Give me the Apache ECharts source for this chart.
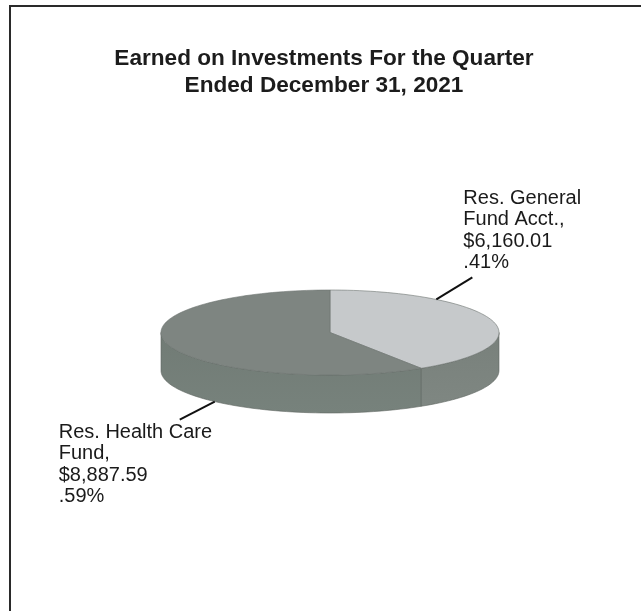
<!DOCTYPE html>
<html lang="en">
<head>
<meta charset="UTF-8">
<title>Earned on Investments For the Quarter</title>
<script src="https://cdn.jsdelivr.net/npm/echarts@6/dist/echarts.min.js"></script>
</head>
<body style="margin:0;background:#ffffff;">
<div id="main" style="width:641px;height:611px;"></div>
<script>
// data
var names = ['Res. General\nFund Acct.', 'Res. Health Care\nFund'];
var amounts = [6160.01, 8887.59];

// styles
var topColors = ['#c6c9cb', '#7e8581'];
var sideColors = ['#78807b', '#717b75'];
var textFont = "'Liberation Sans', Arial, sans-serif";

// flattened 3d pie layout (px)
var pie = { cx: 330, cy: 332.5, rx: 169, ry: 42.5, depth: 38 };
// leader start angle (deg clockwise from 12 o'clock), leader end offset, text offset
var labelPos = [
    { angle: 39, onSide: false, dx: 36, dy: -22, tx: -9, ty: -4, va: 'bottom' },
    { angle: 223, onSide: true, dx: -35, dy: 18, tx: -121, ty: 2, va: 'top' }
];

var total = amounts.reduce(function (s, v) { return s + v; }, 0);
var angles = [];
var acc = 0;
amounts.forEach(function (v) {
    var a0 = acc / total * 360;
    acc += v;
    angles.push([a0, acc / total * 360]);
});

function pt(deg, dy) {
    var r = deg * Math.PI / 180;
    return [pie.cx + pie.rx * Math.sin(r), pie.cy - pie.ry * Math.cos(r) + (dy || 0)];
}

function arc(a0, a1, dy) {
    var n = Math.max(2, Math.ceil(Math.abs(a1 - a0) / 2));
    var pts = [];
    for (var k = 0; k <= n; k++) {
        pts.push(pt(a0 + (a1 - a0) * k / n, dy));
    }
    return pts;
}

function money(v) {
    return '$' + v.toFixed(2).replace(/\B(?=(\d{3})+(?!\d))/g, ',');
}

function pct(v) {
    return (v / total).toFixed(2).replace(/^0/, '') + '%';
}

function renderSlice(params, api) {
    var i = params.dataIndex;
    var a0 = angles[i][0], a1 = angles[i][1];
    var children = [];

    // visible outer wall (front half of the ellipse)
    var s0 = Math.max(a0, 90), s1 = Math.min(a1, 270);
    if (s1 > s0) {
        var upper = arc(s0, s1, 0);
        var lower = arc(s1, s0, pie.depth);
        children.push({
            type: 'polygon',
            shape: { points: upper.concat(lower) },
            style: {
                fill: new echarts.graphic.LinearGradient(0, 0, 0, 1, [
                    { offset: 0, color: sideColors[i] },
                    { offset: 1, color: echarts.color.lift(sideColors[i], -0.06) }
                ]),
                stroke: '#5f6662',
                lineWidth: 0.6
            }
        });
    }

    // top face
    children.push({
        type: 'polygon',
        z2: 5,
        shape: { points: [[pie.cx, pie.cy]].concat(arc(a0, a1, 0)) },
        style: { fill: topColors[i], stroke: '#6d7470', lineWidth: 0.6 }
    });

    // leader line + label
    var lp = labelPos[i];
    var s = pt(lp.angle, lp.onSide ? pie.depth : 0);
    var e = [s[0] + lp.dx, s[1] + lp.dy];
    children.push({
        type: 'line',
        z2: 10,
        shape: { x1: s[0], y1: s[1], x2: e[0], y2: e[1] },
        style: { stroke: '#111111', lineWidth: 2 }
    });
    children.push({
        type: 'text',
        z2: 10,
        x: e[0] + lp.tx,
        y: e[1] + lp.ty,
        style: {
            text: names[i] + ',\n' + money(amounts[i]) + '\n' + pct(amounts[i]),
            fontFamily: textFont,
            fontSize: 20,
            lineHeight: 21.5,
            fill: '#1a1a1a',
            align: 'left',
            verticalAlign: lp.va
        }
    });

    return { type: 'group', children: children };
}

var chart = echarts.init(document.getElementById('main'));

var option = {
    backgroundColor: '#ffffff',
    animation: false,
    title: {
        text: 'Earned on Investments For the Quarter\nEnded December 31, 2021',
        left: 319,
        top: 40,
        textAlign: 'center',
        textStyle: {
            fontFamily: textFont,
            fontWeight: 'bold',
            fontSize: 22.6,
            lineHeight: 27,
            color: '#1c1c1c'
        }
    },
    graphic: [
        {
            type: 'rect',
            z: -1,
            shape: { x: 10, y: 6, width: 700, height: 700 },
            style: { fill: 'none', stroke: '#2a2a2a', lineWidth: 2 }
        }
    ],
    series: [
        {
            type: 'custom',
            coordinateSystem: 'none',
            silent: true,
            renderItem: renderSlice,
            data: amounts
        }
    ]
};

chart.setOption(option);
window.onresize = function () {
    chart.resize();
};
</script>
</body>
</html>
